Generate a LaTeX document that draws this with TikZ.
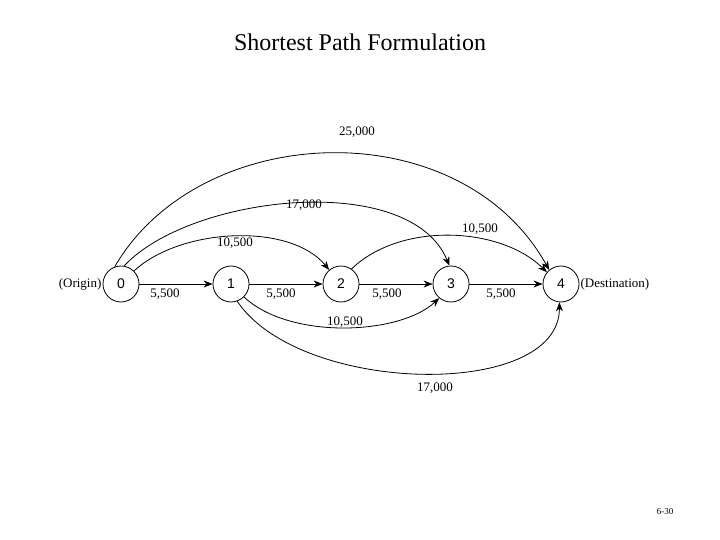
\documentclass[tikz,border=0pt]{standalone}
\usepackage{fontspec}
\setmainfont{Liberation Serif}
\setsansfont{Liberation Sans}
\usetikzlibrary{arrows.meta}
\begin{document}
\begin{tikzpicture}[x=1pt,y=-1pt,
  nd/.style={circle,draw,line width=0.8pt,minimum size=36pt,inner sep=0pt,font=\sffamily\fontsize{14}{14}\selectfont},
  arc/.style={-{Stealth[length=9pt,width=7pt]},line width=0.8pt},
  lbl/.style={font=\fontsize{13}{13}\selectfont,inner sep=1pt}]
\useasboundingbox (0,0) rectangle (720,540);
\node[font=\fontsize{24}{24}\selectfont] (title) at (360,42) {Shortest Path Formulation};
\node[font=\fontsize{9}{9}\selectfont] (pg) at (665,512) {6-30};
\node[nd] (n0) at (121,284) {0};
\node[nd] (n1) at (231,284) {1};
\node[nd] (n2) at (341,284) {2};
\node[nd] (n3) at (451,284) {3};
\node[nd] (n4) at (561,284) {4};
\node[lbl,anchor=east] (org) at (n0.west) {(Origin)};
\node[lbl,anchor=west] (dst) at (n4.east) {(Destination)};
\draw[arc] (n0) -- (n1);
\draw[arc] (n1) -- (n2);
\draw[arc] (n2) -- (n3);
\draw[arc] (n3) -- (n4);
\node[lbl] (l01) at (165,294) {5,500};
\node[lbl] (l12) at (281,294) {5,500};
\node[lbl] (l23) at (387,294) {5,500};
\node[lbl] (l34) at (501,294) {5,500};
\draw[arc] (n0.110) .. controls (200,120) and (460,110) .. (n4.130);
\draw[arc] (n0.80) .. controls (190,195) and (410,170) .. (n3.95);
\draw[arc] (n0.45) .. controls (180,228) and (290,222) .. (n2.130);
\draw[arc] (n2.55) .. controls (400,222) and (500,226) .. (n4.140);
\draw[arc] (n1.-45) .. controls (290,340) and (400,335) .. (n3.-130);
\draw[arc] (n1.-70) .. controls (300,395) and (560,400) .. (n4.-95);
\node[lbl] (a) at (357,132) {25,000};
\node[lbl] (b) at (304,205) {17,000};
\node[lbl] (c) at (235,243) {10,500};
\node[lbl] (d) at (480,229) {10,500};
\node[lbl] (e) at (345,322) {10,500};
\node[lbl] (f) at (435,388) {17,000};
\end{tikzpicture}
\end{document}
